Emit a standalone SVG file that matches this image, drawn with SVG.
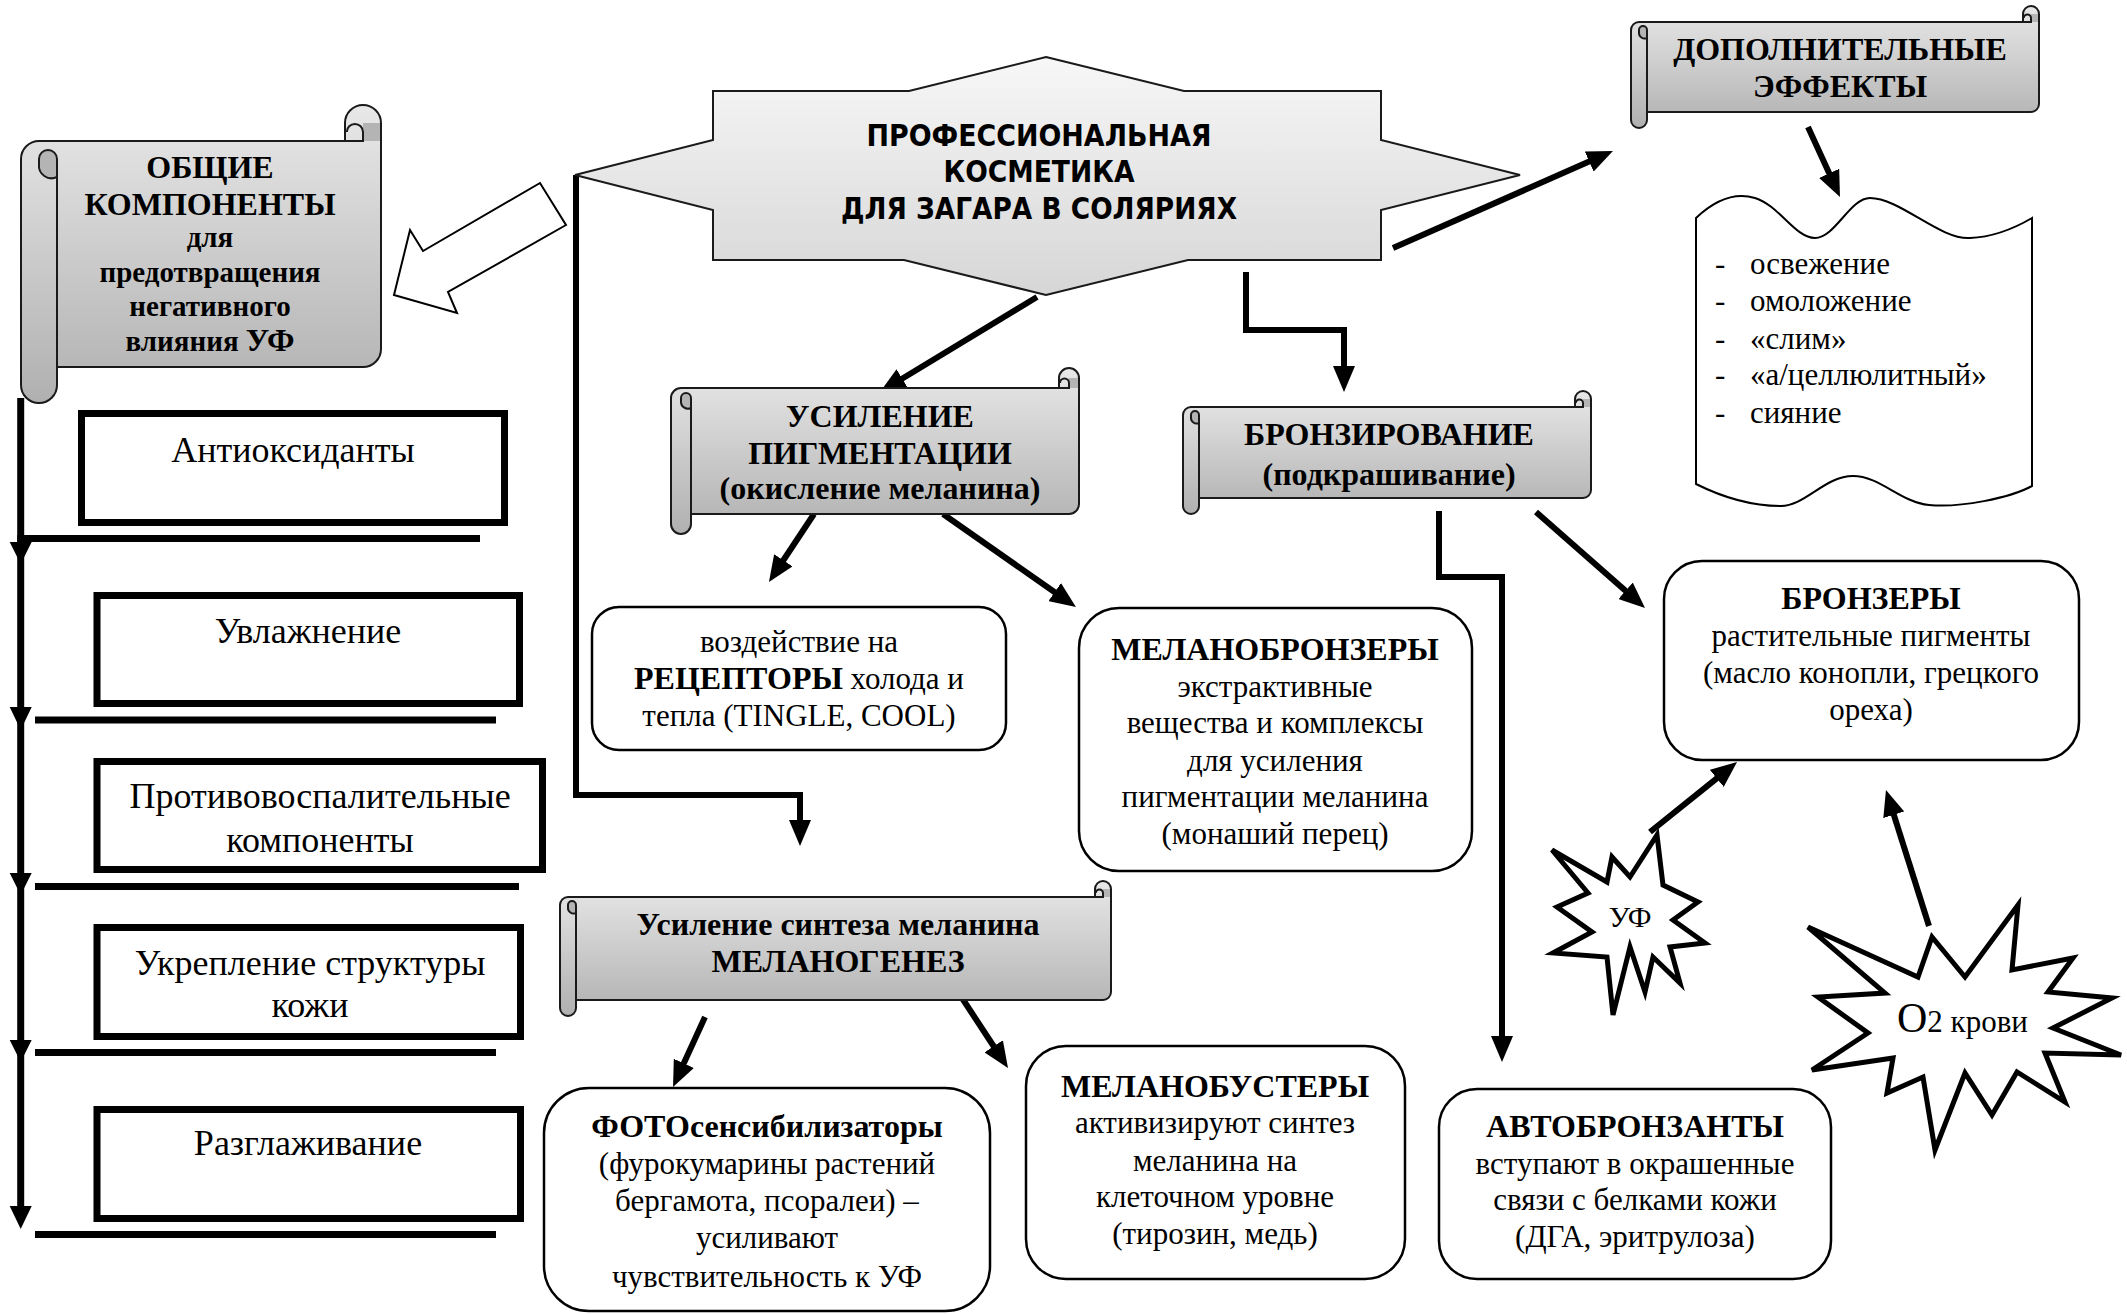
<svg xmlns="http://www.w3.org/2000/svg" width="2127" height="1314" viewBox="0 0 2127 1314">
<defs>
<linearGradient id="gScroll" x1="0" y1="0" x2="0" y2="1">
<stop offset="0" stop-color="#e8e8e8"/>
<stop offset="1" stop-color="#b0b0b0"/>
</linearGradient>
<linearGradient id="gStar" x1="0" y1="0" x2="0" y2="1">
<stop offset="0" stop-color="#f7f7f7"/>
<stop offset="1" stop-color="#d6d6d6"/>
</linearGradient>
<marker id="ah" markerUnits="userSpaceOnUse" markerWidth="26" markerHeight="22" refX="8" refY="11" orient="auto" viewBox="0 0 26 22">
<path d="M0,0 L26,11 L0,22 Z" fill="#000"/>
</marker>
<style>
.sb{font-family:"Liberation Serif","Times New Roman",serif;font-weight:bold;font-size:32px;text-anchor:middle;fill:#000}
.sm{font-family:"Liberation Serif","Times New Roman",serif;font-weight:bold;font-size:29px;text-anchor:middle;fill:#000}
.sr{font-family:"Liberation Serif","Times New Roman",serif;font-size:31px;text-anchor:middle;fill:#000}
.lc{font-family:"Liberation Serif","Times New Roman",serif;font-size:36px;text-anchor:middle;fill:#000}
.ls{font-family:"Liberation Serif","Times New Roman",serif;font-size:31px;fill:#000}
.st{font-family:"DejaVu Sans","Liberation Sans",sans-serif;font-weight:bold;font-size:30px;text-anchor:middle;fill:#000}
.scr{fill:url(#gScroll);stroke:#1a1a1a;stroke-width:2}
.curl{fill:#b4b4b4;stroke:#1a1a1a;stroke-width:2}
.ln{fill:none;stroke:#1a1a1a;stroke-width:2}
.box{fill:#fff;stroke:#000;stroke-width:2.5}
.tbox{fill:#fff;stroke:#000;stroke-width:7}
.bar{stroke:#000;stroke-width:7;fill:none}
.con{stroke:#000;stroke-width:6;fill:none}
.boom{fill:#fff;stroke:#000;stroke-width:5;stroke-linejoin:miter}
</style>
</defs>
<rect width="2127" height="1314" fill="#fff"/>

<g id="connectors">
<path class="bar" d="M20.7,398 V1210"/>
<path class="bar" d="M17.2,538.5 H480"/>
<path class="bar" d="M35,720 H496"/>
<path class="bar" d="M35,886.5 H519"/>
<path class="bar" d="M35,1052.5 H496"/>
<path class="bar" d="M35,1234.5 H496"/>
<polygon points="9.7,542 31.7,542 20.7,564" fill="#000"/>
<polygon points="9.7,707 31.7,707 20.7,730" fill="#000"/>
<polygon points="9.7,873 31.7,873 20.7,895" fill="#000"/>
<polygon points="9.7,1040 31.7,1040 20.7,1062" fill="#000"/>
<polygon points="9.7,1206 31.7,1206 20.7,1229" fill="#000"/>
<polygon points="394,295 457,313 448,292 566,225 540,183 423,251 410,230" fill="#fff" stroke="#000" stroke-width="2" stroke-linejoin="miter"/>
<path class="con" d="M576,175 V795 H800 V828" marker-end="url(#ah)"/>
<path class="con" d="M1037,297 L895.4,382.7" marker-end="url(#ah)"/>
<path class="con" d="M1246,272 V330 H1344 V374" marker-end="url(#ah)"/>
<path class="con" d="M1393,248 L1596.5,158.3" marker-end="url(#ah)"/>
<path class="con" d="M1808,127 L1832.5,180.6" marker-end="url(#ah)"/>
<path class="con" d="M814,514 L778.9,567" marker-end="url(#ah)"/>
<path class="con" d="M943,514 L1061.2,596.7" marker-end="url(#ah)"/>
<path class="con" d="M1439,511 V577 H1502 V1044" marker-end="url(#ah)"/>
<path class="con" d="M1536,512 L1631.5,596.1" marker-end="url(#ah)"/>
<path class="con" d="M1650,832 L1723,773.3" marker-end="url(#ah)"/>
<path class="con" d="M1929,926 L1891.4,807.2" marker-end="url(#ah)"/>
<path class="con" d="M705,1017 L680.5,1070.6" marker-end="url(#ah)"/>
<path class="con" d="M962,998 L998.1,1053" marker-end="url(#ah)"/>
</g>

<g id="star-main">
<path d="M1046,57 L1184,91 L1381,91 L1381,140 L1520,175 L1381,210 L1381,260 L1188,260 L1046,295 L904,260 L713,260 L713,210 L575,175 L713,140 L713,91 L909,91 Z" fill="url(#gStar)" stroke="#1a1a1a" stroke-width="2"/>
<text class="st" x="1039" y="146" textLength="345" lengthAdjust="spacingAndGlyphs">ПРОФЕССИОНАЛЬНАЯ</text>
<text class="st" x="1039" y="182" textLength="191" lengthAdjust="spacingAndGlyphs">КОСМЕТИКА</text>
<text class="st" x="1039" y="219" textLength="396" lengthAdjust="spacingAndGlyphs">ДЛЯ ЗАГАРА В СОЛЯРИЯХ</text>
</g>

<g id="scroll-obshchie">
<path class="scr" d="M21,159 A18,18 0 0 1 39,141 L345,141 L345,123 A18,18 0 0 1 381,123 L381,349 A18,18 0 0 1 363,367 L57,367 L57,385 A18,18 0 0 1 21,385 Z"/>
<path class="ln" d="M57,159 V385"/>
<path class="curl" d="M57,177 V159 A9,9 0 0 0 39,159 V164.4 A12.6,12.6 0 0 0 57,177 Z"/>
<rect x="363" y="123" width="17" height="18" fill="#b4b4b4"/>
<path class="ln" d="M345,141 H363 V132 A8.1,8.1 0 0 0 346.8,132"/>
<text class="sb" x="210" y="178">ОБЩИЕ</text>
<text class="sb" x="210" y="215">КОМПОНЕНТЫ</text>
<text class="sm" x="210" y="247">для</text>
<text class="sm" x="210" y="282">предотвращения</text>
<text class="sm" x="210" y="316">негативного</text>
<text class="sm" x="210" y="351">влияния <tspan font-size="32">УФ</tspan></text>
</g>

<g id="box-antiox">
<rect class="tbox" x="81.5" y="413.5" width="423" height="109"/>
<text class="lc" x="293" y="462">Антиоксиданты</text>
</g>
<g id="box-uvl">
<rect class="tbox" x="97" y="595.5" width="422.5" height="108"/>
<text class="lc" x="308" y="643">Увлажнение</text>
</g>
<g id="box-protivo">
<rect class="tbox" x="97" y="761.5" width="445.5" height="108"/>
<text class="lc" x="320" y="808">Противовоспалительные</text>
<text class="lc" x="320" y="852">компоненты</text>
</g>
<g id="box-ukrepl">
<rect class="tbox" x="97" y="927.5" width="423.5" height="109"/>
<text class="lc" x="310" y="975">Укрепление структуры</text>
<text class="lc" x="310" y="1017">кожи</text>
</g>
<g id="box-razgl">
<rect class="tbox" x="97" y="1109.5" width="423.5" height="109"/>
<text class="lc" x="308" y="1155">Разглаживание</text>
</g>

<g id="scroll-dop">
<path class="scr" d="M1631,30 A8,8 0 0 1 1639,22 L2023,22 L2023,14 A8,8 0 0 1 2039,14 L2039,104 A8,8 0 0 1 2031,112 L1647,112 L1647,120 A8,8 0 0 1 1631,120 Z"/>
<path class="ln" d="M1647,30 V120"/>
<path class="curl" d="M1647,38 V30 A4,4 0 0 0 1639,30 V32.4 A5.6,5.6 0 0 0 1647,38 Z"/>
<rect x="2031" y="14" width="7" height="8" fill="#b4b4b4"/>
<path class="ln" d="M2023,22 H2031 V18 A3.6,3.6 0 0 0 2023.8,18"/>
<text class="sb" x="1840" y="60">ДОПОЛНИТЕЛЬНЫЕ</text>
<text class="sb" x="1840" y="97">ЭФФЕКТЫ</text>
</g>

<g id="wave-effects">
<path d="M1696,218 C1715,200 1735,192 1755,198 C1780,206 1795,238 1815,238 C1835,238 1850,198 1870,198 C1900,198 1940,240 1970,238 C1995,237 2015,228 2032,218 L2032,486 C2010,498 1960,508 1929,505 C1900,502 1880,476 1853,476 C1825,476 1805,506 1781,506 C1750,506 1720,496 1696,484 Z" fill="#fff" stroke="#000" stroke-width="2"/>
<text class="ls" x="1715" y="274">-</text><text class="ls" x="1750" y="274">освежение</text>
<text class="ls" x="1715" y="311">-</text><text class="ls" x="1750" y="311">омоложение</text>
<text class="ls" x="1715" y="349">-</text><text class="ls" x="1750" y="349">«слим»</text>
<text class="ls" x="1715" y="385">-</text><text class="ls" x="1750" y="385">«а/целлюлитный»</text>
<text class="ls" x="1715" y="423">-</text><text class="ls" x="1750" y="423">сияние</text>
</g>

<g id="scroll-usilenie">
<path class="scr" d="M671,398 A10,10 0 0 1 681,388 L1059,388 L1059,378 A10,10 0 0 1 1079,378 L1079,504 A10,10 0 0 1 1069,514 L691,514 L691,524 A10,10 0 0 1 671,524 Z"/>
<path class="ln" d="M691,398 V524"/>
<path class="curl" d="M691,408 V398 A5,5 0 0 0 681,398 V401 A7,7 0 0 0 691,408 Z"/>
<rect x="1069" y="378" width="9" height="10" fill="#b4b4b4"/>
<path class="ln" d="M1059,388 H1069 V383 A4.5,4.5 0 0 0 1060,383"/>
<text class="sb" x="880" y="427">УСИЛЕНИЕ</text>
<text class="sb" x="880" y="464">ПИГМЕНТАЦИИ</text>
<text class="sb" x="880" y="499" font-size="30">(окисление меланина)</text>
</g>

<g id="scroll-bronz">
<path class="scr" d="M1183,415 A8,8 0 0 1 1191,407 L1575,407 L1575,399 A8,8 0 0 1 1591,399 L1591,490 A8,8 0 0 1 1583,498 L1199,498 L1199,506 A8,8 0 0 1 1183,506 Z"/>
<path class="ln" d="M1199,415 V506"/>
<path class="curl" d="M1199,423 V415 A4,4 0 0 0 1191,415 V417.4 A5.6,5.6 0 0 0 1199,423 Z"/>
<rect x="1583" y="399" width="7" height="8" fill="#b4b4b4"/>
<path class="ln" d="M1575,407 H1583 V403 A3.6,3.6 0 0 0 1575.8,403"/>
<text class="sb" x="1389" y="445">БРОНЗИРОВАНИЕ</text>
<text class="sb" x="1389" y="485" font-size="30">(подкрашивание)</text>
</g>

<g id="box-receptors">
<rect class="box" x="592" y="607" width="414" height="143" rx="27"/>
<text class="sr" x="799" y="652">воздействие на</text>
<text class="sr" x="799" y="689"><tspan font-weight="bold" font-size="32">РЕЦЕПТОРЫ</tspan> холода и</text>
<text class="sr" x="799" y="726">тепла (TINGLE, COOL)</text>
</g>

<g id="box-melanobronz">
<rect class="box" x="1079" y="608" width="393" height="263" rx="40"/>
<text class="sb" x="1275" y="660">МЕЛАНОБРОНЗЕРЫ</text>
<text class="sr" x="1275" y="697">экстрактивные</text>
<text class="sr" x="1275" y="733">вещества и комплексы</text>
<text class="sr" x="1275" y="771">для усиления</text>
<text class="sr" x="1275" y="807">пигментации меланина</text>
<text class="sr" x="1275" y="844">(монаший перец)</text>
</g>

<g id="box-bronzers">
<rect class="box" x="1664" y="561" width="415" height="199" rx="38"/>
<text class="sb" x="1871" y="609">БРОНЗЕРЫ</text>
<text class="sr" x="1871" y="646">растительные пигменты</text>
<text class="sr" x="1871" y="683">(масло конопли, грецкого</text>
<text class="sr" x="1871" y="720">ореха)</text>
</g>

<g id="boom-uf">
<polygon class="boom" points="1657,835 1663,885 1698,902 1673,920 1705,943 1670,947 1680,983 1653,957 1645,992 1630,947 1613,1015 1607,957 1553,953 1592,932 1557,907 1588,893 1552,850 1607,882 1612,857 1630,877"/>
<text x="1630" y="927" font-family="Liberation Serif, Times New Roman, serif" font-size="30" text-anchor="middle">УФ</text>
</g>

<g id="boom-o2">
<polygon class="boom" points="1808,927 1918,977 1932,937 1965,977 2018,905 2012,970 2073,958 2048,992 2112,998 2053,1028 2121,1055 2045,1053 2065,1102 2017,1072 1992,1115 1965,1073 1935,1150 1923,1077 1887,1093 1893,1058 1812,1070 1868,1033 1818,997 1885,993"/>
<text x="1897" y="1032" font-family="Liberation Serif, Times New Roman, serif" font-size="42">O<tspan font-size="31">2 крови</tspan></text>
</g>

<g id="box-autobronz">
<rect class="box" x="1439" y="1089" width="392" height="190" rx="38"/>
<text class="sb" x="1635" y="1137">АВТОБРОНЗАНТЫ</text>
<text class="sr" x="1635" y="1174">вступают в окрашенные</text>
<text class="sr" x="1635" y="1210">связи с белками кожи</text>
<text class="sr" x="1635" y="1247">(ДГА, эритрулоза)</text>
</g>

<g id="scroll-melanogenez">
<path class="scr" d="M560,905 A8,8 0 0 1 568,897 L1095,897 L1095,889 A8,8 0 0 1 1111,889 L1111,992 A8,8 0 0 1 1103,1000 L576,1000 L576,1008 A8,8 0 0 1 560,1008 Z"/>
<path class="ln" d="M576,905 V1008"/>
<path class="curl" d="M576,913 V905 A4,4 0 0 0 568,905 V907.4 A5.6,5.6 0 0 0 576,913 Z"/>
<rect x="1103" y="889" width="7" height="8" fill="#b4b4b4"/>
<path class="ln" d="M1095,897 H1103 V893 A3.6,3.6 0 0 0 1095.8,893"/>
<text class="sb" x="838" y="935">Усиление синтеза меланина</text>
<text class="sb" x="838" y="972">МЕЛАНОГЕНЕЗ</text>
</g>

<g id="box-foto">
<rect class="box" x="544" y="1088" width="446" height="223" rx="45"/>
<text class="sb" x="767" y="1137">ФОТОсенсибилизаторы</text>
<text class="sr" x="767" y="1174">(фурокумарины растений</text>
<text class="sr" x="767" y="1211">бергамота, псоралеи) –</text>
<text class="sr" x="767" y="1248">усиливают</text>
<text class="sr" x="767" y="1287">чувствительность к УФ</text>
</g>

<g id="box-melanobust">
<rect class="box" x="1026" y="1046" width="379" height="233" rx="40"/>
<text class="sb" x="1215" y="1097">МЕЛАНОБУСТЕРЫ</text>
<text class="sr" x="1215" y="1133">активизируют синтез</text>
<text class="sr" x="1215" y="1171">меланина на</text>
<text class="sr" x="1215" y="1207">клеточном уровне</text>
<text class="sr" x="1215" y="1244">(тирозин, медь)</text>
</g>
</svg>
